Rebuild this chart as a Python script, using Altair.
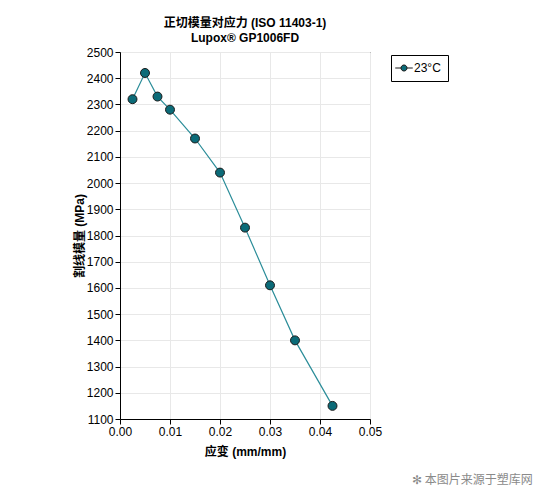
import altair as alt
import pandas as pd

strain = [0.0025, 0.005, 0.0075, 0.01, 0.015, 0.02, 0.025, 0.03, 0.035, 0.0425]
modulus = [2320, 2420, 2330, 2280, 2170, 2040, 1830, 1610, 1400, 1150]
series = ["23°C"] * len(strain)

df = pd.DataFrame({"strain": strain, "modulus": modulus, "series": series})

font = "Liberation Sans, Arial, Noto Sans CJK SC"
cjk = "Liberation Sans, Arial, Noto Sans CJK SC"

x = alt.X("strain:Q", title="应变 (mm/mm)",
          scale=alt.Scale(domain=[0, 0.05], nice=False),
          axis=alt.Axis(values=[0, 0.01, 0.02, 0.03, 0.04, 0.05], format=".2f",
                        labelFlush=False))
y = alt.Y("modulus:Q", title="割线模量 (MPa)",
          scale=alt.Scale(domain=[1100, 2500], nice=False),
          axis=alt.Axis(values=list(range(1100, 2501, 100)), format="d",
                        labelFlush=False))

color = alt.Color("series:N", title=None,
                  scale=alt.Scale(domain=["23°C"], range=["#0b6b78"]),
                  legend=alt.Legend(
                      orient="none", legendX=271, legendY=3,
                      strokeColor="black", padding=7,
                      symbolType="M-1.6,0L-0.55,0M0.55,0L1.6,0M-0.55,0A0.55,0.55 0 1,1 0.55,0A0.55,0.55 0 1,1 -0.55,0Z",
                      symbolSize=120, symbolStrokeColor="#1a1a1a", symbolStrokeWidth=1,
                      symbolFillColor="#0b6b78",
                      labelFont=font, labelFontSize=12, labelColor="black"))

line = alt.Chart(df).mark_line(color="#2b8d99", strokeWidth=1.2).encode(x=x, y=y)
pts = alt.Chart(df).mark_point(filled=True, size=80, stroke="#1a1a1a", strokeWidth=1,
                               opacity=1).encode(x=x, y=y, color=color, fill=color)

wm = alt.Chart(pd.DataFrame({"t": ["✻ 本图片来源于塑库网"]})).mark_text(
    font="Noto Sans CJK SC", fontSize=12, color="#8a8a8a", align="left", baseline="middle"
).encode(x=alt.value(292), y=alt.value(428), text="t:N")

chart = alt.layer(line, pts, wm).properties(
    width=250, height=367,
    title=alt.Title(["正切模量对应力 (ISO 11403-1)", "Lupox® GP1006FD"],
                    font=cjk, fontSize=12, fontWeight="bold", color="black",
                    anchor="middle", offset=1, lineHeight=15),
    autosize=alt.AutoSizeParams(type="none"),
    padding={"left": 112, "top": 44, "right": 168, "bottom": 72},
).configure_axis(
    labelFont=font, labelFontSize=12, labelColor="black",
    titleFont=cjk, titleFontSize=12, titleFontWeight="bold", titleColor="black",
    domainColor="black", tickColor="black", tickSize=5,
    gridColor="#e8e8e8", labelPadding=2,
).configure_axisY(titlePadding=0).configure_axisX(titlePadding=9).configure_view(
    stroke="black", strokeWidth=1
)

chart.save("out.html", embed_options={"renderer": "svg", "actions": False})
